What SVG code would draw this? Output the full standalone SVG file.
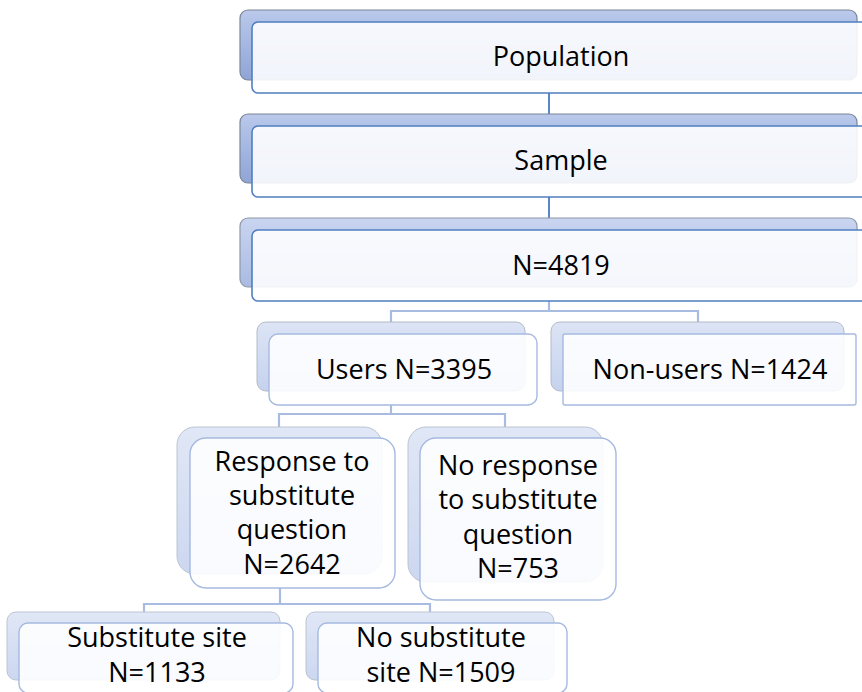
<svg xmlns="http://www.w3.org/2000/svg" width="862" height="692" viewBox="0 0 862 692">
<defs>
<linearGradient id="g0" x1="0" y1="0" x2="0" y2="1"><stop offset="0" stop-color="#bac9eb"/><stop offset="1" stop-color="#8fa5d7"/></linearGradient>
<linearGradient id="g1" x1="0" y1="0" x2="0" y2="1"><stop offset="0" stop-color="#c9d5f0"/><stop offset="1" stop-color="#a9bbe3"/></linearGradient>
<linearGradient id="g2" x1="0" y1="0" x2="0" y2="1"><stop offset="0" stop-color="#dce4f5"/><stop offset="1" stop-color="#c6d2ee"/></linearGradient>
<linearGradient id="g3" x1="0" y1="0" x2="0" y2="1"><stop offset="0" stop-color="#e0e7f6"/><stop offset="1" stop-color="#ccd7f0"/></linearGradient>
<style>
.b0{fill:url(#g0);stroke:#7b8698;stroke-width:1.2}
.b1{fill:url(#g1);stroke:#8e98a8;stroke-width:1.2}
.b2{fill:url(#g2);stroke:#b2bac8;stroke-width:1}
.b3{fill:url(#g3);stroke:#bcc4d2;stroke-width:1}
.f0{fill:#ffffff;fill-opacity:0.88;stroke:#4f7fc0;stroke-width:1.6}
.f1{fill:#ffffff;fill-opacity:0.88;stroke:#a5b9e0;stroke-width:1.4}
.c0{fill:none;stroke:#5b86c4;stroke-width:2}
.c1{fill:none;stroke:#a8bce2;stroke-width:2.2}
text{font-family:"Open Sans","Noto Sans","Liberation Sans",sans-serif;font-size:27px;fill:#000;text-anchor:middle}
</style>
</defs>
<g id="connectors">
<path class="c0" d="M549 93V115"/>
<path class="c0" d="M549 197V219"/>
<path class="c1" d="M549 301V311M391 322V311H698V322"/>
<path class="c1" d="M391 405V414M279 427V414H505V427"/>
<path class="c1" d="M280 588V604M144 612V604H430V612"/>
</g>
<g id="population">
<rect class="b0" x="240" y="10" width="617" height="70" rx="8"/>
<rect class="f0" x="252" y="22" width="620" height="71" rx="6"/>
<text x="561" y="66">Population</text>
</g>
<g id="sample">
<rect class="b0" x="240" y="114" width="617" height="69" rx="8"/>
<rect class="f0" x="252" y="126" width="620" height="71" rx="6"/>
<text x="561" y="170">Sample</text>
</g>
<g id="n4819">
<rect class="b1" x="240" y="218" width="617" height="69" rx="8"/>
<rect class="f0" x="252" y="230" width="620" height="71" rx="6"/>
<text x="561" y="275">N=4819</text>
</g>
<g id="users">
<rect class="b2" x="257" y="322" width="268" height="69" rx="9"/>
<rect class="f1" x="269" y="334" width="268" height="71" rx="9"/>
<text x="404" y="379">Users N=3395</text>
</g>
<g id="nonusers">
<rect class="b2" x="551" y="322" width="293" height="69" rx="9"/>
<rect class="f1" x="563" y="334" width="293" height="71" rx="2"/>
<text x="710" y="379">Non-users N=1424</text>
</g>
<g id="response">
<rect class="b3" x="177" y="427" width="205" height="147" rx="18"/>
<rect class="f1" x="190" y="438" width="205" height="150" rx="16"/>
<text x="292" y="471">Response to</text>
<text x="292" y="505">substitute</text>
<text x="292" y="539">question</text>
<text x="292" y="574">N=2642</text>
</g>
<g id="noresponse">
<rect class="b3" x="408" y="427" width="195" height="155" rx="18"/>
<rect class="f1" x="420" y="438" width="196" height="162" rx="16"/>
<text x="518" y="475">No response</text>
<text x="518" y="509">to substitute</text>
<text x="518" y="544">question</text>
<text x="518" y="578">N=753</text>
</g>
<g id="substitute">
<rect class="b3" x="7" y="612" width="273" height="68" rx="9"/>
<rect class="f1" x="19" y="623" width="274" height="70" rx="9"/>
<text x="157" y="647">Substitute site</text>
<text x="157" y="682">N=1133</text>
</g>
<g id="nosubstitute">
<rect class="b3" x="306" y="612" width="248" height="68" rx="9"/>
<rect class="f1" x="318" y="623" width="249" height="70" rx="9"/>
<text x="441" y="647">No substitute</text>
<text x="441" y="682">site N=1509</text>
</g>
</svg>
